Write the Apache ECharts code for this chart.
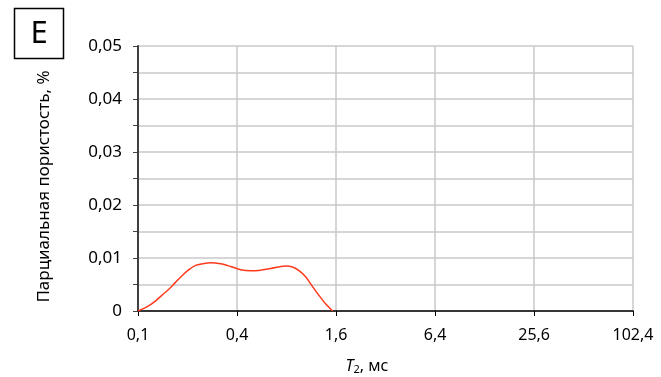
<!DOCTYPE html>
<html><head><meta charset="utf-8">
<script src="https://cdn.jsdelivr.net/npm/echarts@6/dist/echarts.min.js"></script>
<style>html,body{margin:0;padding:0;background:#fff}#c{width:661px;height:377px}</style>
</head><body><div id="c"></div>
<script>
var t2Values = [0.1, 0.116, 0.128, 0.140, 0.154, 0.169, 0.186, 0.204, 0.224, 0.246, 0.276, 0.318, 0.366, 0.421, 0.484, 0.557, 0.641, 0.738, 0.792, 0.870, 0.954, 1.049, 1.152, 1.264, 1.388, 1.526];
var porosity = [0, 0.00096, 0.0019, 0.0030, 0.0041, 0.0054, 0.0067, 0.0078, 0.0086, 0.0089, 0.0091, 0.0089, 0.0084, 0.0078, 0.0076, 0.0077, 0.0080, 0.0084, 0.0085, 0.0083, 0.0076, 0.0064, 0.0046, 0.0029, 0.0013, 0];
var xTickLabels = ['0,1', '0,4', '1,6', '6,4', '25,6', '102,4'];
var yTickLabels = ['0', '0,01', '0,02', '0,03', '0,04', '0,05'];

var FONT = 'Noto Sans';
var chart = echarts.init(document.getElementById('c'), null, {renderer: 'canvas'});
var data = t2Values.map(function (x, i) { return [x, porosity[i]]; });
chart.setOption({
  animation: false,
  grid: {left: 138, right: 28, top: 46, bottom: 66},
  xAxis: [{
    type: 'log', logBase: 4, min: 0.1, max: 102.4, interval: 1,
    axisLine: {show: true, lineStyle: {color: '#000', width: 1.5}},
    axisTick: {show: true, length: 5, lineStyle: {color: '#000'}},
    axisLabel: {show: true, color: '#000', fontFamily: FONT, fontSize: 16, margin: 16,
      formatter: function (v, i) { return xTickLabels[i]; }},
    splitLine: {show: true, lineStyle: {color: '#c8c8c8', width: 1.5}}
  }],
  yAxis: {
    type: 'value', min: 0, max: 0.05, interval: 0.005,
    axisLine: {show: true, lineStyle: {color: '#404040', width: 2}},
    axisTick: {show: true, length: 5, lineStyle: {color: '#404040'}},
    axisLabel: {color: '#000', fontFamily: FONT, fontSize: 17, margin: 16,
      formatter: function (v) {
        var k = Math.round(v * 1000);
        if (k % 10 !== 0) return '';
        return yTickLabels[k / 10];
      }},
    splitLine: {show: true, lineStyle: {color: '#c8c8c8', width: 1.5}}
  },
  series: [{
    type: 'line', data: data, smooth: 0.3, symbol: 'none',
    lineStyle: {color: '#ff3a1c', width: 1.5}
  }],
  graphic: [
    {type: 'rect', shape: {x: 14.5, y: 8.5, width: 49, height: 50}, style: {fill: '#fff', stroke: '#000', lineWidth: 1.5}},
    {type: 'text', x: 39, y: 34, style: {text: 'E', fontFamily: FONT, fontSize: 31, fill: '#000', align: 'center', verticalAlign: 'middle'}},
    {type: 'text', x: 44, y: 186.5, rotation: Math.PI / 2, style: {text: 'Парциальная пористость, %', fontFamily: FONT, fontSize: 17, fill: '#000', align: 'center', verticalAlign: 'middle'}},
    {type: 'text', x: 367, y: 366, style: {
      text: '{i|T}{s|2}, мс', align: 'center', verticalAlign: 'middle', fontFamily: FONT, fontSize: 16, fill: '#000',
      rich: {i: {fontStyle: 'italic', fontFamily: FONT, fontSize: 16}, s: {fontFamily: FONT, fontSize: 11, verticalAlign: 'bottom', padding: [7, 0, 0, 0]}}
    }}
  ]
});
</script></body></html>
